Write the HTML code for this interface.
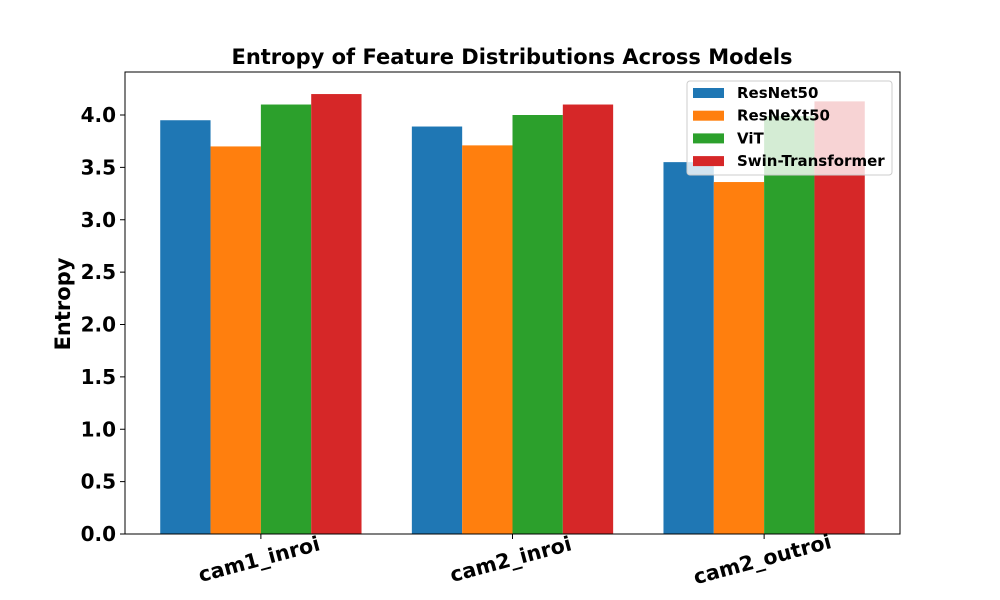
<!DOCTYPE html>
<html><head><meta charset="utf-8"><style>
body{margin:0;background:#fff}
svg{display:block;font-family:"DejaVu Sans","Liberation Sans",sans-serif;font-weight:bold}
</style></head><body>
<svg id="chart" width="1000" height="600" viewBox="0 0 1000 600">
<rect width="1000" height="600" fill="#fff"/>
<text x="512" y="64" text-anchor="middle" font-size="21">Entropy of Feature Distributions Across Models</text>
<g id="bars"></g>
<g id="yticks"></g>
<g id="xticks"></g>
<rect x="125" y="72" width="775" height="462" fill="none" stroke="#000" stroke-width="1"/>
<text transform="translate(70,304) rotate(-90)" text-anchor="middle" font-size="21">Entropy</text>
<g id="legend"></g>
</svg>
<script>
const categories = ["cam1_inroi","cam2_inroi","cam2_outroi"];
const seriesNames = ["ResNet50","ResNeXt50","ViT","Swin-Transformer"];
const resnet50 = [3.95, 3.89, 3.55];
const resnext50 = [3.70, 3.71, 3.36];
const vit = [4.10, 4.00, 3.99];
const swin = [4.20, 4.10, 4.13];
const yTicks = [0.0,0.5,1.0,1.5,2.0,2.5,3.0,3.5,4.0];
const colors = ["#1f77b4","#ff7f0e","#2ca02c","#d62728"];
const series = [resnet50, resnext50, vit, swin];

const NS="http://www.w3.org/2000/svg";
const L=125,R=900,T=72,B=534;
const xmin=-0.54,xmax=2.54,ymin=0,ymax=(B-T)/104.75;
const xs=v=>L+(v-xmin)/(xmax-xmin)*(R-L);
const ys=v=>B-(v-ymin)/(ymax-ymin)*(B-T);
const bw=0.2;
function mk(tag,attrs,parent){const e=document.createElementNS(NS,tag);for(const k in attrs)e.setAttribute(k,attrs[k]);parent.appendChild(e);return e;}
const gb=document.getElementById('bars');
series.forEach((vals,si)=>{
  vals.forEach((v,ci)=>{
    const x0=xs(ci+(si-1.5)*bw-bw/2), x1=xs(ci+(si-1.5)*bw+bw/2);
    const r=mk('rect',{x:x0,y:ys(v),width:x1-x0,height:ys(0)-ys(v),fill:colors[si]},gb);
    
    
  });
});
const gy=document.getElementById('yticks');
yTicks.forEach(t=>{
  const y=ys(t);
  mk('line',{x1:L-5,x2:L,y1:y,y2:y,stroke:'#000'},gy);
  const tx=mk('text',{x:L-9,y:y+7,'text-anchor':'end','font-size':'20'},gy);
  tx.textContent=t.toFixed(1);
  
  
});
const gx=document.getElementById('xticks');
categories.forEach((c,i)=>{
  const x=xs(i);
  mk('line',{x1:x,x2:x,y1:B,y2:B+5,stroke:'#000'},gx);
  const tx=mk('text',{transform:`translate(${x},${B+32}) rotate(-15)`,'text-anchor':'middle','font-size':'20.5'},gx);
  tx.textContent=c;
  
  
});
const lg=document.getElementById('legend');
mk('rect',{x:687,y:81,width:205,height:94,rx:3,fill:'#fff','fill-opacity':0.8,stroke:'#ccc'},lg);
seriesNames.forEach((n,i)=>{
  const y=92+i*22.7;
  const sw=mk('rect',{x:693,y:y-4,width:31,height:10,fill:colors[i]},lg);
  
  
  const t=mk('text',{x:737,y:y+6,'font-size':'15'},lg);
  t.textContent=n;
  
  
});
</script>
</body></html>
